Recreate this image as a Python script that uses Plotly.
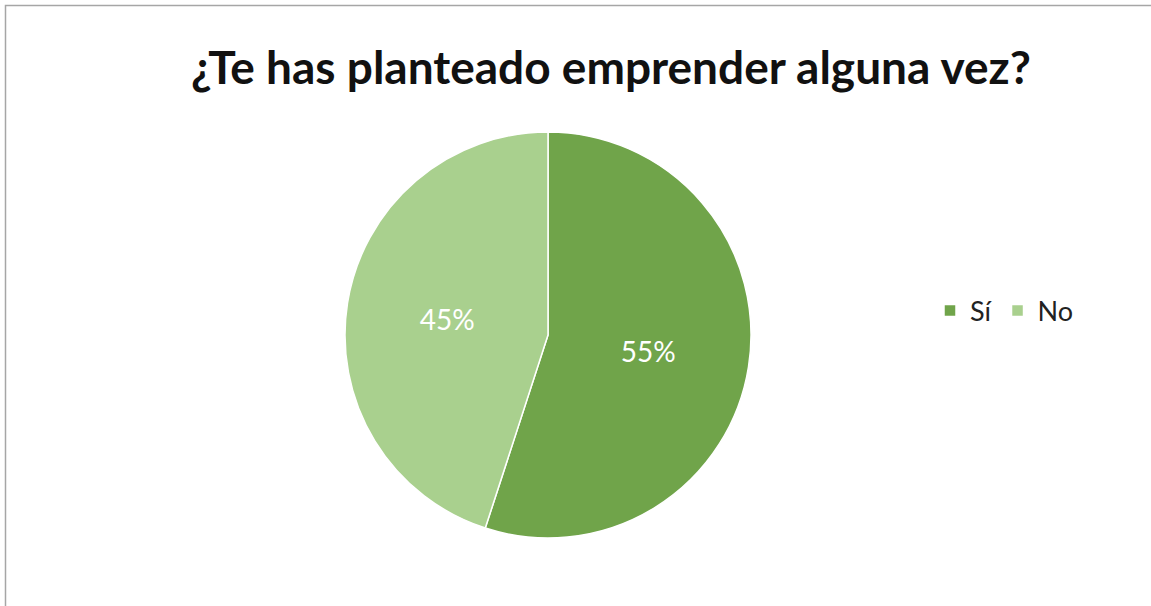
import plotly.graph_objects as go

labels = ["Sí", "No"]
values = [55, 45]
colors = ["#70A44A", "#A9D08E"]
title_text = "¿Te has planteado emprender alguna vez?"

W, H = 1151, 606
cx, cy, r = 548, 335, 203

fig = go.Figure(go.Pie(
    labels=labels,
    values=values,
    marker=dict(colors=colors, line=dict(color="white", width=1.5)),
    sort=False,
    direction="clockwise",
    rotation=0,
    textinfo="percent",
    texttemplate="%{percent:.0%}",
    textposition="inside",
    insidetextorientation="horizontal",
    textfont=dict(color="white", size=28, family="Lato"),
    domain=dict(x=[(cx - r) / W, (cx + r) / W], y=[(H - cy - r) / H, (H - cy + r) / H]),
    hoverinfo="label+percent",
))

fig.update_layout(
    width=W, height=H,
    margin=dict(l=0, r=0, t=0, b=0),
    paper_bgcolor="white",
    plot_bgcolor="white",
    font=dict(family="Lato", color="#222222"),
    title=dict(
        text="<b>" + title_text + "</b>",
        x=611 / W, xanchor="center",
        y=1 - 68 / H, yanchor="middle",
        font=dict(size=46, family="Lato", color="#111111"),
    ),
    legend=dict(
        orientation="h",
        x=930 / W, xanchor="left",
        y=1 - 311 / H, yanchor="middle",
        font=dict(size=27, family="Lato", color="#222222"),
        itemwidth=30,
    ),
    shapes=[dict(
        type="rect", xref="paper", yref="paper",
        x0=5.5 / W, x1=1.05, y0=-0.05, y1=1 - 5.5 / H,
        line=dict(color="#A6A6A6", width=1.5),
        fillcolor="rgba(0,0,0,0)",
    )],
)

fig.write_html(
    "out.html",
    config={"displayModeBar": False},
    post_script="document.body.style.margin='0';document.body.style.overflow='hidden';",
)
